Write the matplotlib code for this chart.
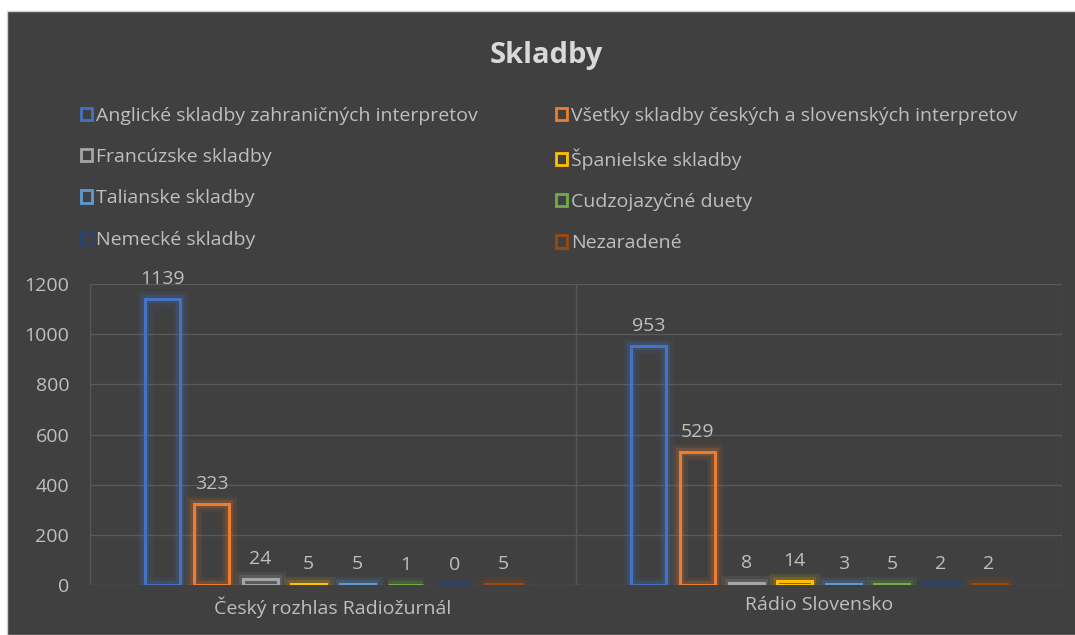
import numpy as np
import matplotlib
matplotlib.use("Agg")
import matplotlib.pyplot as plt
import matplotlib.patheffects as pe
from matplotlib.patches import Rectangle, Patch

plt.rcParams['font.family'] = ['Open Sans', 'DejaVu Sans']

# data
stations = ['Český rozhlas Radiožurnál', 'Rádio Slovensko']
series = [
    'Anglické skladby zahraničných interpretov',
    'Všetky skladby českých a slovenských interpretov',
    'Francúzske skladby',
    'Španielske skladby',
    'Talianske skladby',
    'Cudzojazyčné duety',
    'Nemecké skladby',
    'Nezaradené',
]
radiozurnal = [1139, 323, 24, 5, 5, 1, 0, 5]
slovensko = [953, 529, 8, 14, 3, 5, 2, 2]
colors = ['#4472C4', '#ED7D31', '#A5A5A5', '#FFC000',
          '#5B9BD5', '#70AD47', '#264478', '#9E480E']

bg = '#404040'
txt = '#BFBFBF'
grid = '#595959'
fs = 14

fig = plt.figure(figsize=(10.75, 6.35), dpi=100, facecolor='white')
# dark chart panel, with a thin white margin top and left like the screenshot
fig.patches.append(Rectangle((7 / 1075, 0), 1, 1 - 11 / 635, transform=fig.transFigure,
                             facecolor=bg, edgecolor='#d0d0d0', lw=1, zorder=-10))

ax = fig.add_axes([90 / 1075, 50 / 635, 972 / 1075, 301 / 635])
ax.set_facecolor(bg)

x = np.arange(len(stations))
slot = 0.1
width = 0.072
for i, name in enumerate(series):
    vals = [radiozurnal[i], slovensko[i]]
    bars = ax.bar(x + (i - 3.5) * slot, vals, width, facecolor='none',
                  edgecolor=colors[i], linewidth=2.2, label=name, zorder=3)
    for b in bars:
        b.set_path_effects([
            pe.Stroke(linewidth=11, foreground=colors[i], alpha=0.1),
            pe.Stroke(linewidth=6, foreground=colors[i], alpha=0.18),
            pe.Normal(),
        ])
    ax.bar_label(bars, padding=8, color=txt, fontsize=fs)

ax.set_xlim(-0.5, 1.5)
ax.set_ylim(0, 1200)
ax.set_yticks(range(0, 1201, 200))
ax.yaxis.grid(True, color=grid, lw=1)
ax.set_axisbelow(True)
ax.set_xticks(x)
ax.set_xticklabels(stations)
for xv in [-0.5, 0.5, 1.5]:
    ax.axvline(xv, color=grid, lw=1, zorder=1)
ax.tick_params(axis='both', length=0, colors=txt, labelsize=fs)
ax.tick_params(axis='y', pad=15)
ax.tick_params(axis='x', pad=8)
for s in ax.spines.values():
    s.set_visible(False)

fig.text(0.508, 1 - 55 / 635, 'Skladby', ha='center', va='center',
         fontsize=21, fontweight='bold', color='#D9D9D9')

order = [0, 2, 4, 6, 1, 3, 5, 7]
handles = [Patch(facecolor='none', edgecolor=colors[k], linewidth=2) for k in order]
leg = fig.legend(handles, [series[k] for k in order],
                 ncol=2, loc='upper left', bbox_to_anchor=(71 / 1075, 1 - 97 / 635),
                 frameon=False, fontsize=fs, labelcolor=txt,
                 handlelength=0.6, handleheight=0.6, handletextpad=0.2,
                 labelspacing=1.2, columnspacing=4.0, borderpad=0)

fig.savefig('out.png', dpi=100, facecolor=fig.get_facecolor())
